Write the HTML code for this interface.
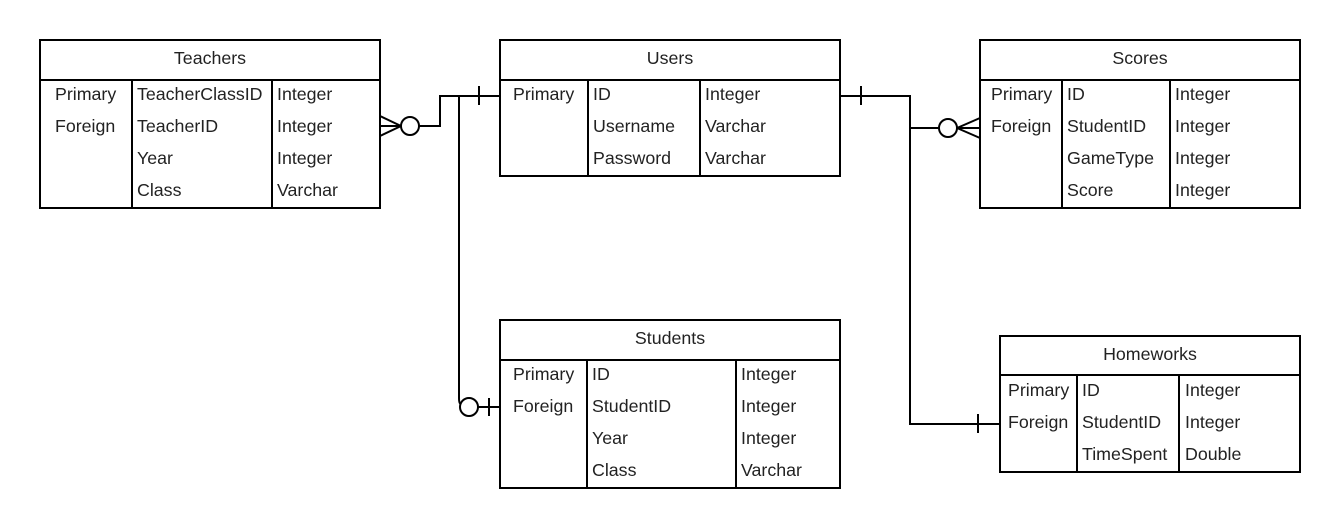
<!DOCTYPE html>
<html><head><meta charset="utf-8"><style>
html,body{margin:0;padding:0;background:#fff;width:1340px;height:528px;overflow:hidden}
text{font-family:"Liberation Sans",sans-serif;font-size:17.8px;fill:#222}
</style></head><body>
<svg width="1340" height="528" xmlns="http://www.w3.org/2000/svg">
<g fill="none" stroke="#000" stroke-width="2">
<rect x="40" y="40" width="340" height="168"/><line x1="40" y1="80" x2="380" y2="80"/>
<line x1="132" y1="80" x2="132" y2="208"/><line x1="272" y1="80" x2="272" y2="208"/>
<rect x="500" y="40" width="340" height="136"/><line x1="500" y1="80" x2="840" y2="80"/>
<line x1="588" y1="80" x2="588" y2="176"/><line x1="700" y1="80" x2="700" y2="176"/>
<rect x="980" y="40" width="320" height="168"/><line x1="980" y1="80" x2="1300" y2="80"/>
<line x1="1062" y1="80" x2="1062" y2="208"/><line x1="1170" y1="80" x2="1170" y2="208"/>
<rect x="500" y="320" width="340" height="168"/><line x1="500" y1="360" x2="840" y2="360"/>
<line x1="587" y1="360" x2="587" y2="488"/><line x1="736" y1="360" x2="736" y2="488"/>
<rect x="1000" y="336" width="300" height="136"/><line x1="1000" y1="375" x2="1300" y2="375"/>
<line x1="1077" y1="375" x2="1077" y2="472"/><line x1="1179" y1="375" x2="1179" y2="472"/>

<line x1="380" y1="116" x2="401" y2="126"/><line x1="380" y1="136" x2="401" y2="126"/><line x1="380" y1="126" x2="401" y2="126"/>
<circle cx="410" cy="126" r="9"/>
<polyline points="419,126 440,126 440,96 500,96"/>
<line x1="479" y1="86" x2="479" y2="105"/>
<path d="M459,96 L459,398 Q459,404 461,404"/>
<circle cx="469" cy="407" r="9"/>
<line x1="478" y1="407" x2="500" y2="407"/>
<line x1="489" y1="398" x2="489" y2="416"/>
<polyline points="840,96 910,96 910,424 1000,424"/>
<line x1="861" y1="86" x2="861" y2="105"/>
<line x1="978" y1="414" x2="978" y2="433"/>
<line x1="910" y1="128" x2="939" y2="128"/>
<circle cx="948" cy="128" r="9"/>
<line x1="957" y1="128" x2="980" y2="128"/><line x1="957" y1="128" x2="980" y2="118"/><line x1="957" y1="128" x2="980" y2="138"/>
</g>
<g>
<text x="210" y="64" text-anchor="middle">Teachers</text>
<text x="55" y="100">Primary</text><text x="55" y="132">Foreign</text>
<text x="137" y="100">TeacherClassID</text><text x="137" y="132">TeacherID</text><text x="137" y="164">Year</text><text x="137" y="196">Class</text>
<text x="277" y="100">Integer</text><text x="277" y="132">Integer</text><text x="277" y="164">Integer</text><text x="277" y="196">Varchar</text>

<text x="670" y="64" text-anchor="middle">Users</text>
<text x="513" y="100">Primary</text>
<text x="593" y="100">ID</text><text x="593" y="132">Username</text><text x="593" y="164">Password</text>
<text x="705" y="100">Integer</text><text x="705" y="132">Varchar</text><text x="705" y="164">Varchar</text>

<text x="1140" y="64" text-anchor="middle">Scores</text>
<text x="991" y="100">Primary</text><text x="991" y="132">Foreign</text>
<text x="1067" y="100">ID</text><text x="1067" y="132">StudentID</text><text x="1067" y="164">GameType</text><text x="1067" y="196">Score</text>
<text x="1175" y="100">Integer</text><text x="1175" y="132">Integer</text><text x="1175" y="164">Integer</text><text x="1175" y="196">Integer</text>

<text x="670" y="344" text-anchor="middle">Students</text>
<text x="513" y="380">Primary</text><text x="513" y="412">Foreign</text>
<text x="592" y="380">ID</text><text x="592" y="412">StudentID</text><text x="592" y="444">Year</text><text x="592" y="476">Class</text>
<text x="741" y="380">Integer</text><text x="741" y="412">Integer</text><text x="741" y="444">Integer</text><text x="741" y="476">Varchar</text>

<text x="1150" y="360" text-anchor="middle">Homeworks</text>
<text x="1008" y="396">Primary</text><text x="1008" y="428">Foreign</text>
<text x="1082" y="396">ID</text><text x="1082" y="428">StudentID</text><text x="1082" y="460">TimeSpent</text>
<text x="1185" y="396">Integer</text><text x="1185" y="428">Integer</text><text x="1185" y="460">Double</text>
</g>
</svg>
</body></html>
